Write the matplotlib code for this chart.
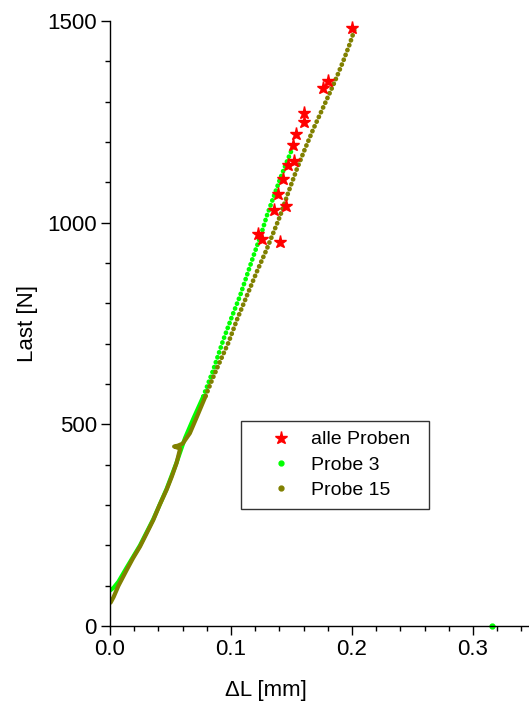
import numpy as np
import matplotlib
matplotlib.use("Agg")
import matplotlib.pyplot as plt
from matplotlib.lines import Line2D

plt.rcParams['font.family'] = ['Liberation Sans', 'DejaVu Sans']

# alle Proben: Bruchpunkte (dL in mm, Last in N)
stern_dl = [0.200, 0.180, 0.176, 0.160, 0.160, 0.154, 0.1515, 0.1517, 0.147,
            0.143, 0.139, 0.1455, 0.1358, 0.1226, 0.1253, 0.1405]
stern_last = [1482, 1352, 1333, 1271, 1250, 1221, 1193, 1152, 1142,
              1109, 1070, 1041, 1031, 971, 960, 952]

# Probe 3
p3_dl = [0.000, 0.003, 0.007, 0.0138, 0.0248, 0.0358, 0.0468, 0.055, 0.062,
         0.069, 0.0771, 0.085, 0.0937, 0.1005, 0.1074, 0.113, 0.1185, 0.1253,
         0.1295, 0.1345, 0.1405, 0.146, 0.1515]
p3_last = [88, 95, 110, 145, 200, 265, 340, 405, 466,
           515, 569, 632, 710, 765, 818, 868, 917, 975,
           1016, 1058, 1108, 1150, 1190]
p3_rest_dl = [0.316]
p3_rest_last = [0]

# Probe 15
p15_dl = [0.0005, 0.003, 0.007, 0.0138, 0.019, 0.0248, 0.030, 0.0358, 0.041,
          0.0468, 0.051, 0.055, 0.058, 0.053, 0.056, 0.060, 0.066, 0.072,
          0.079, 0.085, 0.0915, 0.0978, 0.105, 0.113, 0.121, 0.1295, 0.135,
          0.1405, 0.147, 0.1543, 0.161, 0.168, 0.175, 0.1818, 0.1875, 0.1928,
          0.198, 0.2025]
p15_last = [58, 72, 100, 139, 168, 197, 228, 263, 300,
            338, 370, 404, 440, 445, 447, 452, 478, 520,
            570, 615, 660, 702, 760, 818, 876, 934, 975,
            1016, 1072, 1132, 1182, 1232, 1278, 1323, 1362, 1401,
            1442, 1482]

gruen = '#00ff00'
oliv = '#808000'

fig = plt.figure(figsize=(5.29, 7.11), dpi=100)
ax = fig.add_axes([110/529, 85/711, 423.5/529, 605/711])

# unten liegen die Messpunkte so dicht, dass sie eine Linie bilden
n3 = 11
n15 = 19
dots = (0, (0.05, 1.05))
ax.plot(p3_dl[:n3], p3_last[:n3], color=gruen, lw=3.0, solid_capstyle='round')
ax.plot(p3_dl[n3 - 1:], p3_last[n3 - 1:], color=gruen, lw=3.4, ls=dots, dash_capstyle='round')
ax.plot(p3_rest_dl, p3_rest_last, 'o', color=gruen, ms=3.5, clip_on=False)
ax.plot(p15_dl[:n15], p15_last[:n15], color=oliv, lw=3.0, solid_capstyle='round')
ax.plot(p15_dl[n15 - 1:], p15_last[n15 - 1:], color=oliv, lw=3.4, ls=dots, dash_capstyle='round')
ax.plot(stern_dl, stern_last, '*', color='red', ms=9.5, mec='red', ls='none')

ax.set_xlim(0, 0.35)
ax.set_ylim(0, 1500)
ax.set_xticks([0.0, 0.1, 0.2, 0.3])
ax.set_xticklabels(['0.0', '0.1', '0.2', '0.3'])
ax.set_xticks(np.arange(0, 0.35, 0.02), minor=True)
ax.set_yticks([0, 500, 1000, 1500])
ax.set_yticks(np.arange(0, 1501, 100), minor=True)
ax.spines['top'].set_visible(False)
ax.spines['right'].set_visible(False)
for s in ['left', 'bottom']:
    ax.spines[s].set_linewidth(1.0)
ax.tick_params(which='major', length=6.5, width=1.0, labelsize=16, pad=3)
ax.tick_params(which='minor', length=3.6, width=1.0)

ax.set_xlabel('ΔL [mm]', fontsize=16)
ax.set_ylabel('Last [N]', fontsize=16)
ax.xaxis.set_label_coords(0.368, -0.09)
ax.yaxis.set_label_coords(-0.17, 0.5)

handles = [Line2D([], [], marker='*', color='red', ls='none', ms=9.5),
           Line2D([], [], marker='o', color=gruen, ls='none', ms=3.5),
           Line2D([], [], marker='o', color=oliv, ls='none', ms=3.5)]
leg = ax.legend(handles, ['alle Proben', 'Probe 3', 'Probe 15'],
                loc='lower left', bbox_to_anchor=(0.309, 0.1934, 0.444, 0.144),
                mode='expand', borderaxespad=0,
                fontsize=14, fancybox=False, frameon=True, edgecolor='black',
                handlelength=3.1, handletextpad=0.0, labelspacing=0.4,
                borderpad=0.5)
leg.get_frame().set_linewidth(1.0)

fig.savefig('out.png', dpi=100)
